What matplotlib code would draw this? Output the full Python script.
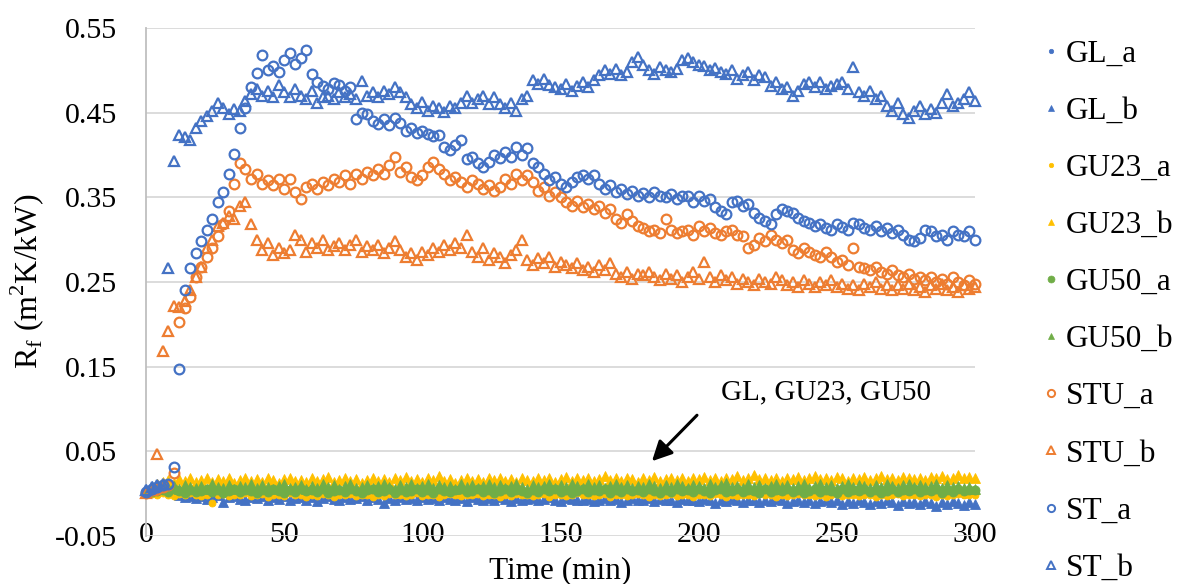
import numpy as np
import matplotlib
matplotlib.use("Agg")
import matplotlib.pyplot as plt
from matplotlib.lines import Line2D

plt.rcParams['font.family'] = ['Liberation Serif', 'DejaVu Serif']
plt.rcParams['mathtext.fontset'] = 'custom'
plt.rcParams['mathtext.rm'] = 'Liberation Serif'

# time axis, one reading every 2 min
time_min = np.arange(0, 301, 2)

# --- near zero series (GL, GU23, GU50) ---
gl_a = [0.003, 0.006, 0.008, 0.010, 0.009, 0.005, 0.002, 0.001, 0.003, 0.000,
        0.002, -0.001, 0.001, 0.003, 0.000, 0.002, -0.001, 0.001, 0.002, 0.000,
        0.001, 0.003, -0.001, 0.002, 0.000, 0.001, 0.003, 0.000, -0.001, 0.002,
        0.000, 0.002, 0.001, -0.001, 0.003, 0.001, 0.000, 0.002, -0.001, 0.001,
        0.002, 0.000, 0.003, 0.001, -0.001, 0.002, 0.000, 0.001, 0.003, 0.000,
        -0.001, 0.001, 0.002, 0.000, 0.003, 0.001, -0.001, 0.002, 0.000, 0.001,
        0.003, 0.000, 0.001, 0.002, -0.001, 0.001, 0.003, 0.000, 0.002, -0.001,
        0.001, 0.002, 0.000, 0.003, 0.001, -0.001, 0.002, 0.000, 0.001, 0.003,
        0.000, 0.001, 0.003, -0.001, 0.002, 0.000, 0.001, 0.002, -0.001, 0.001,
        0.002, 0.000, 0.001, 0.003, 0.000, 0.002, -0.001, 0.001, 0.002, 0.000,
        0.001, 0.003, 0.000, 0.001, 0.002, -0.001, 0.001, 0.000, 0.003, 0.001,
        0.000, 0.002, 0.001, -0.001, 0.002, 0.000, 0.001, 0.003, 0.000, 0.002,
        0.001, -0.001, 0.002, 0.000, 0.001, 0.003, 0.000, 0.001, 0.002, -0.001,
        0.002, 0.000, 0.001, 0.002, -0.001, 0.001, 0.000, 0.002, 0.001, 0.000,
        0.001, 0.002, 0.000, -0.001, 0.001, 0.002, 0.000, 0.001, -0.001, 0.000,
        0.001]

gl_b = [0.006, 0.009, 0.011, 0.010, 0.012, 0.004, -0.002, -0.004, -0.003, -0.005,
        -0.003, -0.006, -0.004, -0.002, -0.010, -0.004, -0.003, -0.006, -0.008, -0.004,
        -0.005, -0.003, -0.007, -0.004, -0.006, -0.003, -0.008, -0.005, -0.004, -0.007,
        -0.004, -0.009, -0.005, -0.003, -0.006, -0.008, -0.004, -0.006, -0.005, -0.003,
        -0.007, -0.004, -0.006, -0.011, -0.005, -0.007, -0.004, -0.006, -0.005, -0.008,
        -0.004, -0.006, -0.005, -0.008, -0.004, -0.006, -0.007, -0.005, -0.009, -0.004,
        -0.006, -0.008, -0.005, -0.007, -0.004, -0.006, -0.009, -0.005, -0.007, -0.006,
        -0.005, -0.008, -0.006, -0.004, -0.007, -0.009, -0.005, -0.006, -0.008, -0.007,
        -0.006, -0.009, -0.007, -0.005, -0.008, -0.006, -0.010, -0.007, -0.005, -0.008,
        -0.007, -0.005, -0.009, -0.006, -0.008, -0.007, -0.010, -0.006, -0.008, -0.007,
        -0.009, -0.006, -0.008, -0.011, -0.007, -0.009, -0.006, -0.008, -0.010, -0.007,
        -0.008, -0.010, -0.007, -0.009, -0.006, -0.008, -0.011, -0.009, -0.007, -0.010,
        -0.008, -0.011, -0.009, -0.007, -0.010, -0.008, -0.012, -0.009, -0.011, -0.008,
        -0.010, -0.012, -0.009, -0.011, -0.008, -0.010, -0.013, -0.009, -0.011, -0.010,
        -0.012, -0.009, -0.011, -0.014, -0.010, -0.012, -0.009, -0.011, -0.013, -0.010,
        -0.012]

gu23_a = [0.001, 0.000, -0.002, 0.001, -0.001, -0.003, 0.000, -0.002, 0.001, -0.001,
          -0.003, -0.001, -0.011, -0.002, 0.000, -0.003, -0.001, -0.002, 0.001, -0.003,
          -0.002, 0.000, -0.004, -0.001, -0.002, -0.003, 0.001, -0.002, -0.001, -0.004,
          -0.001, -0.003, 0.000, -0.002, -0.004, -0.001, -0.002, 0.000, -0.003, -0.001,
          -0.002, -0.004, -0.001, -0.003, 0.000, -0.002, -0.001, -0.003, -0.002, 0.001,
          -0.003, -0.001, -0.002, -0.004, -0.001, 0.000, -0.002, -0.003, -0.001, -0.002,
          0.000, -0.003, -0.001, -0.002, -0.004, -0.001, -0.003, 0.000, -0.002, -0.001,
          -0.003, -0.002, 0.000, -0.004, -0.001, -0.002, -0.003, -0.001, 0.001, -0.002,
          -0.001, -0.003, -0.002, 0.000, -0.004, -0.002, -0.001, -0.003, -0.002, 0.000,
          -0.002, -0.004, -0.001, -0.003, -0.002, 0.000, -0.003, -0.001, -0.002, -0.004,
          -0.001, -0.002, -0.003, 0.000, -0.002, -0.004, -0.001, -0.003, -0.002, -0.001,
          -0.003, 0.000, -0.002, -0.001, -0.004, -0.002, -0.003, -0.001, 0.000, -0.002,
          -0.002, -0.003, -0.001, -0.004, -0.002, 0.000, -0.003, -0.001, -0.002, -0.003,
          -0.001, -0.002, -0.004, -0.001, -0.003, -0.002, 0.000, -0.003, -0.001, -0.002,
          -0.003, -0.001, -0.002, -0.004, -0.001, -0.003, -0.002, 0.000, -0.002, -0.001,
          -0.002]

gu23_b = [0.004, 0.008, 0.012, 0.014, 0.016, 0.013, 0.017, 0.015, 0.018, 0.014,
          0.016, 0.019, 0.014, 0.017, 0.015, 0.018, 0.013, 0.016, 0.019, 0.015,
          0.017, 0.014, 0.018, 0.016, 0.013, 0.017, 0.019, 0.015, 0.016, 0.014,
          0.018, 0.015, 0.017, 0.020, 0.014, 0.016, 0.018, 0.015, 0.017, 0.013,
          0.016, 0.019, 0.015, 0.017, 0.014, 0.018, 0.016, 0.020, 0.015, 0.017,
          0.014, 0.018, 0.016, 0.021, 0.015, 0.017, 0.013, 0.016, 0.019, 0.015,
          0.017, 0.014, 0.018, 0.016, 0.019, 0.015, 0.017, 0.014, 0.018, 0.016,
          0.015, 0.019, 0.016, 0.018, 0.014, 0.017, 0.020, 0.015, 0.018, 0.016,
          0.019, 0.015, 0.017, 0.021, 0.016, 0.018, 0.015, 0.019, 0.017, 0.014,
          0.018, 0.016, 0.020, 0.015, 0.017, 0.019, 0.016, 0.018, 0.015, 0.019,
          0.017, 0.020, 0.016, 0.018, 0.015, 0.019, 0.017, 0.021, 0.016, 0.018,
          0.022, 0.017, 0.019, 0.016, 0.018, 0.015, 0.019, 0.017, 0.020, 0.016,
          0.018, 0.021, 0.017, 0.019, 0.016, 0.020, 0.018, 0.015, 0.019, 0.017,
          0.020, 0.016, 0.018, 0.021, 0.017, 0.019, 0.016, 0.020, 0.018, 0.017,
          0.019, 0.016, 0.020, 0.018, 0.021, 0.017, 0.019, 0.022, 0.018, 0.020,
          0.019]

gu50_a = [0.001, 0.002, 0.003, 0.004, 0.002, 0.005, 0.003, 0.001, 0.004, 0.002,
          0.003, 0.005, 0.002, 0.004, 0.001, 0.003, 0.005, 0.002, 0.004, 0.003,
          0.001, 0.004, 0.002, 0.005, 0.003, 0.001, 0.004, 0.002, 0.006, 0.003,
          0.004, 0.002, 0.005, 0.001, 0.003, 0.004, 0.002, 0.005, 0.003, 0.001,
          0.004, 0.006, 0.002, 0.003, 0.005, 0.001, 0.004, 0.002, 0.003, 0.005,
          0.002, 0.004, 0.001, 0.005, 0.003, 0.002, 0.004, 0.006, 0.002, 0.003,
          0.005, 0.002, 0.004, 0.001, 0.003, 0.005, 0.002, 0.004, 0.003, 0.001,
          0.004, 0.002, 0.005, 0.003, 0.006, 0.002, 0.004, 0.001, 0.003, 0.005,
          0.002, 0.004, 0.003, 0.005, 0.001, 0.004, 0.002, 0.006, 0.003, 0.004,
          0.002, 0.005, 0.003, 0.001, 0.004, 0.002, 0.005, 0.003, 0.004, 0.002,
          0.005, 0.003, 0.001, 0.004, 0.006, 0.002, 0.003, 0.005, 0.002, 0.004,
          0.003, 0.001, 0.005, 0.002, 0.004, 0.003, 0.006, 0.002, 0.004, 0.001,
          0.003, 0.005, 0.002, 0.004, 0.003, 0.001, 0.005, 0.002, 0.004, 0.003,
          0.006, 0.002, 0.004, 0.001, 0.003, 0.005, 0.002, 0.004, 0.003, 0.005,
          0.002, 0.004, 0.003, 0.005, 0.001, 0.004, 0.002, 0.005, 0.003, 0.004,
          0.004]

gu50_b = [0.002, 0.005, 0.006, 0.008, 0.007, 0.009, 0.006, 0.010, 0.008, 0.007,
          0.009, 0.006, 0.011, 0.008, 0.007, 0.010, 0.006, 0.009, 0.008, 0.011,
          0.007, 0.010, 0.008, 0.006, 0.009, 0.011, 0.007, 0.008, 0.010, 0.006,
          0.009, 0.007, 0.011, 0.008, 0.010, 0.006, 0.009, 0.012, 0.007, 0.008,
          0.010, 0.007, 0.009, 0.011, 0.008, 0.006, 0.010, 0.008, 0.012, 0.007,
          0.009, 0.011, 0.007, 0.010, 0.008, 0.009, 0.006, 0.011, 0.008, 0.010,
          0.007, 0.009, 0.012, 0.008, 0.010, 0.007, 0.009, 0.011, 0.008, 0.006,
          0.010, 0.008, 0.009, 0.012, 0.007, 0.010, 0.008, 0.011, 0.009, 0.007,
          0.011, 0.008, 0.010, 0.007, 0.009, 0.012, 0.008, 0.010, 0.007, 0.009,
          0.008, 0.011, 0.009, 0.007, 0.010, 0.008, 0.012, 0.009, 0.007, 0.010,
          0.009, 0.007, 0.011, 0.008, 0.010, 0.013, 0.008, 0.009, 0.007, 0.011,
          0.008, 0.010, 0.007, 0.009, 0.011, 0.008, 0.010, 0.007, 0.009, 0.012,
          0.007, 0.009, 0.011, 0.008, 0.010, 0.007, 0.009, 0.012, 0.008, 0.010,
          0.009, 0.007, 0.010, 0.008, 0.011, 0.009, 0.007, 0.010, 0.012, 0.008,
          0.010, 0.008, 0.009, 0.011, 0.007, 0.010, 0.008, 0.009, 0.007, 0.008,
          0.006]

# --- fouling series ---
stu_a = [0.001, 0.004, 0.006, 0.008, 0.010, 0.025, 0.203, 0.219, 0.232, 0.256,
         0.268, 0.280, 0.290, 0.304, 0.318, 0.334, 0.366, 0.390, 0.384, 0.372,
         0.378, 0.366, 0.370, 0.365, 0.372, 0.360, 0.372, 0.356, 0.348, 0.362,
         0.366, 0.360, 0.368, 0.364, 0.372, 0.368, 0.376, 0.366, 0.378, 0.372,
         0.380, 0.376, 0.384, 0.378, 0.388, 0.398, 0.380, 0.386, 0.374, 0.370,
         0.376, 0.386, 0.392, 0.384, 0.378, 0.370, 0.374, 0.368, 0.362, 0.370,
         0.366, 0.360, 0.364, 0.358, 0.362, 0.372, 0.366, 0.378, 0.370, 0.376,
         0.368, 0.358, 0.362, 0.352, 0.356, 0.350, 0.344, 0.340, 0.346, 0.338,
         0.342, 0.336, 0.340, 0.332, 0.336, 0.324, 0.320, 0.330, 0.322, 0.316,
         0.314, 0.310, 0.312, 0.308, 0.324, 0.312, 0.308, 0.310, 0.312, 0.306,
         0.316, 0.310, 0.314, 0.308, 0.306, 0.310, 0.312, 0.306, 0.304, 0.290,
         0.294, 0.302, 0.298, 0.306, 0.300, 0.296, 0.300, 0.288, 0.284, 0.290,
         0.286, 0.282, 0.280, 0.286, 0.280, 0.274, 0.276, 0.270, 0.290, 0.268,
         0.266, 0.264, 0.268, 0.262, 0.260, 0.264, 0.258, 0.256, 0.260, 0.254,
         0.256, 0.252, 0.256, 0.250, 0.254, 0.248, 0.256, 0.250, 0.246, 0.252,
         0.248]

stu_b = [0.001, 0.004, 0.047, 0.168, 0.192, 0.222, 0.220, 0.228, 0.240, 0.256,
         0.268, 0.290, 0.300, 0.316, 0.320, 0.328, 0.324, 0.340, 0.345, 0.318,
         0.300, 0.288, 0.296, 0.282, 0.290, 0.284, 0.288, 0.306, 0.300, 0.286,
         0.296, 0.290, 0.300, 0.288, 0.292, 0.296, 0.288, 0.294, 0.300, 0.286,
         0.292, 0.288, 0.294, 0.284, 0.290, 0.298, 0.288, 0.280, 0.284, 0.276,
         0.286, 0.282, 0.290, 0.286, 0.294, 0.288, 0.296, 0.290, 0.306, 0.286,
         0.280, 0.290, 0.276, 0.284, 0.280, 0.272, 0.282, 0.288, 0.300, 0.276,
         0.270, 0.278, 0.272, 0.280, 0.268, 0.274, 0.270, 0.266, 0.272, 0.264,
         0.268, 0.262, 0.270, 0.264, 0.272, 0.260, 0.256, 0.262, 0.254, 0.260,
         0.258, 0.262, 0.256, 0.252, 0.260, 0.254, 0.258, 0.250, 0.256, 0.262,
         0.254, 0.274, 0.256, 0.250, 0.258, 0.252, 0.256, 0.248, 0.254, 0.250,
         0.246, 0.254, 0.250, 0.248, 0.256, 0.252, 0.246, 0.250, 0.244, 0.252,
         0.248, 0.244, 0.250, 0.246, 0.252, 0.244, 0.248, 0.242, 0.246, 0.240,
         0.248, 0.244, 0.250, 0.242, 0.246, 0.240, 0.246, 0.242, 0.248, 0.240,
         0.244, 0.238, 0.246, 0.242, 0.248, 0.240, 0.244, 0.238, 0.246, 0.242,
         0.244]

st_a = [0.002, 0.006, 0.008, 0.010, 0.012, 0.032, 0.147, 0.240, 0.266, 0.284,
        0.298, 0.312, 0.325, 0.344, 0.356, 0.378, 0.401, 0.432, 0.455, 0.480,
        0.497, 0.518, 0.500, 0.505, 0.498, 0.512, 0.520, 0.507, 0.515, 0.524,
        0.496, 0.486, 0.481, 0.478, 0.485, 0.483, 0.476, 0.480, 0.442, 0.450,
        0.448, 0.440, 0.437, 0.442, 0.436, 0.444, 0.438, 0.428, 0.432, 0.426,
        0.428, 0.425, 0.422, 0.424, 0.410, 0.406, 0.412, 0.418, 0.395, 0.398,
        0.390, 0.386, 0.392, 0.400, 0.396, 0.404, 0.398, 0.410, 0.400, 0.408,
        0.390, 0.386, 0.378, 0.370, 0.374, 0.366, 0.362, 0.368, 0.374, 0.376,
        0.372, 0.376, 0.366, 0.360, 0.364, 0.356, 0.360, 0.354, 0.358, 0.352,
        0.355, 0.350, 0.356, 0.352, 0.350, 0.354, 0.348, 0.352, 0.351, 0.345,
        0.352, 0.346, 0.348, 0.338, 0.334, 0.330, 0.344, 0.346, 0.340, 0.342,
        0.332, 0.326, 0.322, 0.318, 0.330, 0.336, 0.334, 0.332, 0.326, 0.322,
        0.320, 0.316, 0.318, 0.314, 0.312, 0.318, 0.315, 0.312, 0.320, 0.318,
        0.314, 0.312, 0.316, 0.310, 0.314, 0.308, 0.312, 0.306, 0.300, 0.298,
        0.302, 0.312, 0.310, 0.304, 0.306, 0.300, 0.310, 0.306, 0.304, 0.310,
        0.300]

st_b = [0.004, 0.008, 0.010, 0.012, 0.266, 0.393, 0.424, 0.421, 0.418, 0.432,
        0.440, 0.446, 0.452, 0.461, 0.455, 0.448, 0.454, 0.452, 0.464, 0.472,
        0.478, 0.470, 0.476, 0.468, 0.483, 0.474, 0.468, 0.478, 0.470, 0.466,
        0.476, 0.462, 0.468, 0.470, 0.466, 0.474, 0.468, 0.472, 0.466, 0.487,
        0.470, 0.474, 0.468, 0.476, 0.472, 0.480, 0.474, 0.468, 0.460, 0.456,
        0.463, 0.452, 0.458, 0.455, 0.451, 0.458, 0.456, 0.462, 0.470, 0.462,
        0.466, 0.470, 0.460, 0.468, 0.460, 0.455, 0.462, 0.452, 0.466, 0.470,
        0.488, 0.484, 0.490, 0.483, 0.480, 0.478, 0.484, 0.476, 0.482, 0.486,
        0.480, 0.488, 0.494, 0.500, 0.496, 0.502, 0.494, 0.498, 0.510, 0.516,
        0.506, 0.500, 0.496, 0.504, 0.500, 0.498, 0.502, 0.512, 0.515, 0.510,
        0.506, 0.505, 0.500, 0.503, 0.498, 0.496, 0.500, 0.490, 0.494, 0.498,
        0.488, 0.494, 0.492, 0.482, 0.486, 0.478, 0.480, 0.470, 0.476, 0.484,
        0.486, 0.480, 0.486, 0.478, 0.482, 0.484, 0.486, 0.478, 0.504, 0.474,
        0.470, 0.476, 0.466, 0.470, 0.458, 0.452, 0.462, 0.448, 0.444, 0.452,
        0.458, 0.448, 0.454, 0.450, 0.462, 0.472, 0.458, 0.462, 0.466, 0.474,
        0.464]

blue = '#4472C4'
orange = '#ED7D31'
gold = '#FFC000'
green = '#70AD47'

# label, data, marker, colour, filled, plot size, legend size
series = [
    ('GL_a', gl_a, 'o', blue, True, 4.5, 3.2),
    ('GL_b', gl_b, '^', blue, True, 6.5, 4.5),
    ('GU23_a', gu23_a, 'o', gold, True, 5.0, 3.2),
    ('GU23_b', gu23_b, '^', gold, True, 6.5, 4.5),
    ('GU50_a', gu50_a, 'o', green, True, 6.5, 5.0),
    ('GU50_b', gu50_b, '^', green, True, 6.5, 4.5),
    ('STU_a', stu_a, 'o', orange, False, 7.0, 5.2),
    ('STU_b', stu_b, '^', orange, False, 7.0, 5.2),
    ('ST_a', st_a, 'o', blue, False, 7.0, 5.2),
    ('ST_b', st_b, '^', blue, False, 7.0, 5.2),
]

fig = plt.figure(figsize=(11.81, 5.84), dpi=100)
ax = fig.add_axes([146 / 1181, 48 / 584, 829 / 1181, 508 / 584])

handles = []
for name, vals, mk, col, filled, ms, ms_leg in series:
    ax.plot(time_min, vals, ls='none', marker=mk, ms=ms,
            mfc=col if filled else 'none', mec=col,
            mew=0.6 if filled else 1.6, clip_on=False, zorder=3)
    handles.append(Line2D([], [], ls='none', marker=mk, ms=ms_leg,
                          mfc=col if filled else 'none', mec=col,
                          mew=0.5 if filled else 1.4, label=name))

ax.set_xlim(0, 300)
ax.set_ylim(-0.05, 0.55)
ax.set_xticks(np.arange(0, 301, 50))
ax.set_yticks(np.arange(-0.05, 0.551, 0.1))
ax.set_yticklabels(['-0.05', '0.05', '0.15', '0.25', '0.35', '0.45', '0.55'])
ax.yaxis.grid(True, color='#D9D9D9', lw=1.3)
ax.set_axisbelow(True)
for s in ['top', 'right', 'bottom']:
    ax.spines[s].set_visible(False)
ax.spines['left'].set_color('#BFBFBF')
ax.spines['left'].set_linewidth(1.3)
ax.tick_params(axis='both', length=0, labelsize=21.5)
ax.tick_params(axis='x', pad=-10)
ax.tick_params(axis='y', pad=21)

fig.text(560 / 1181, 1 - 571 / 584, 'Time (min)', ha='center', va='center', fontsize=22.5)
fig.text(27 / 1181, 1 - 281 / 584, r'R$_\mathregular{f}$ (m$^\mathregular{2}$K/kW)', rotation=90,
         ha='center', va='center', fontsize=23)

ax.annotate('', xy=(182.4, 0.036), xytext=(200.1, 0.095),
            arrowprops=dict(arrowstyle='-|>', color='black', lw=2.2, mutation_scale=30))
ax.text(246, 0.12, 'GL, GU23, GU50', ha='center', va='center', fontsize=21)

fig.legend(handles=handles, loc='upper left', bbox_to_anchor=(1024 / 1181, 1 - 27 / 584),
           frameon=False, fontsize=22.5, labelspacing=0.9, handletextpad=0.05,
           handlelength=0.9, borderaxespad=0)

fig.savefig('out.png', dpi=100)
